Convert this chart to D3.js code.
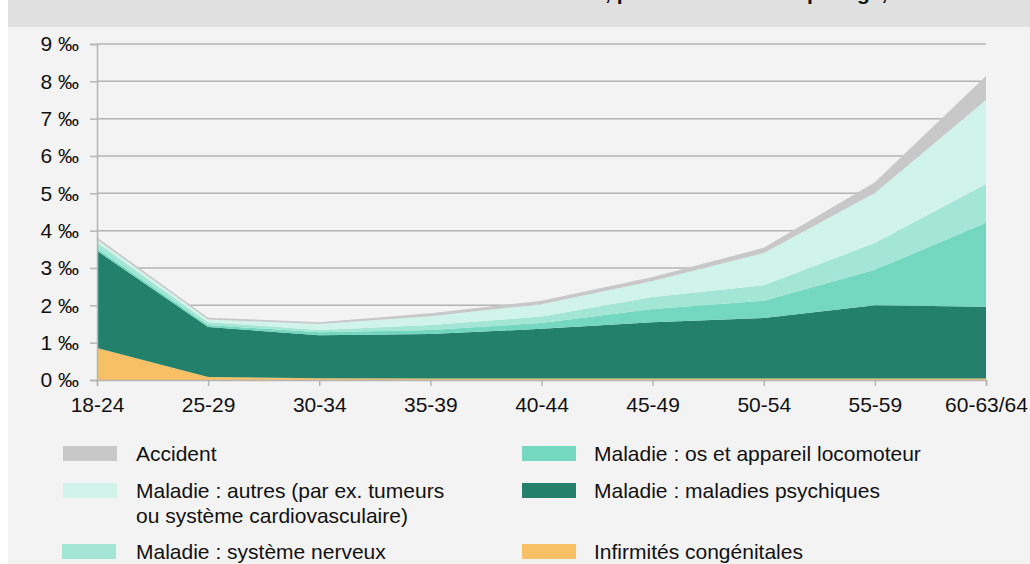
<!DOCTYPE html>
<html>
<head>
<meta charset="utf-8">
<script src="https://cdn.jsdelivr.net/npm/d3@7/dist/d3.min.js"></script>
<style>
  body { margin: 0; background: #ffffff; }
  svg { display: block; font-family: "Liberation Sans", Arial, sans-serif; }
</style>
</head>
<body>
<div id="chart"></div>
<script>
// age groups
const ageGroups = ['18-24', '25-29', '30-34', '35-39', '40-44', '45-49', '50-54', '55-59', '60-63/64'];

// per mille (not cumulative)
const infirmites = [0.86, 0.08, 0.05, 0.04, 0.04, 0.04, 0.04, 0.04, 0.04];
const psychiques = [2.60, 1.34, 1.15, 1.19, 1.33, 1.51, 1.62, 1.96, 1.92];
const osLocomoteur = [0.06, 0.05, 0.08, 0.11, 0.16, 0.35, 0.46, 0.95, 2.25];
const nerveux = [0.16, 0.08, 0.06, 0.13, 0.17, 0.32, 0.42, 0.72, 1.04];
const autres = [0.08, 0.07, 0.16, 0.24, 0.33, 0.43, 0.86, 1.34, 2.25];
const accident = [0.06, 0.05, 0.05, 0.08, 0.09, 0.11, 0.14, 0.29, 0.64];

const yTicks = [0, 1, 2, 3, 4, 5, 6, 7, 8, 9];

const keys = ['inf', 'psy', 'os', 'ner', 'aut', 'acc'];
const seriesValues = { inf: infirmites, psy: psychiques, os: osLocomoteur, ner: nerveux, aut: autres, acc: accident };
const colors = { inf: '#f8c064', psy: '#22806b', os: '#74d8c1', ner: '#a3e6d5', aut: '#d0f3ea', acc: '#c8c8c8' };

const legendItems = [
    { key: 'acc', lines: ['Accident'], x: 63, y: 446 },
    { key: 'aut', lines: ['Maladie : autres (par ex. tumeurs', 'ou système cardiovasculaire)'], x: 63, y: 483 },
    { key: 'ner', lines: ['Maladie : système nerveux'], x: 62, y: 544 },
    { key: 'os', lines: ['Maladie : os et appareil locomoteur'], x: 522, y: 446 },
    { key: 'psy', lines: ['Maladie : maladies psychiques'], x: 522, y: 483 },
    { key: 'inf', lines: ['Infirmités congénitales'], x: 522, y: 544 }
];

const width = 1030;
const height = 564;
const plotLeft = 97, plotRight = 986, plotTop = 44, plotBottom = 380;
const fontSize = 21;

const svg = d3.select('#chart').append('svg')
    .attr('width', width)
    .attr('height', height);

// background panels
svg.append('rect').attr('x', 8).attr('y', 0).attr('width', width - 8).attr('height', height).attr('fill', '#f3f3f3');
svg.append('rect').attr('x', 8).attr('y', 0).attr('width', width - 8).attr('height', 27).attr('fill', '#e0e0e0');

// title, cut off at the top of the picture like in the source
svg.append('text')
    .attr('x', 940).attr('y', 0)
    .attr('text-anchor', 'end')
    .attr('font-size', 21).attr('font-weight', 'bold').attr('fill', '#111')
    .text('Nouvelles rentes selon la cause d\u2019invalidité, pour 1000 assurés par âge, 2023');

const table = ageGroups.map((g, i) => {
    const row = { group: g };
    keys.forEach(k => row[k] = seriesValues[k][i]);
    return row;
});

const stacked = d3.stack().keys(keys)(table);

const x = d3.scalePoint()
    .domain(ageGroups)
    .range([plotLeft, plotRight]);

const y = d3.scaleLinear()
    .domain([0, 9])
    .range([plotBottom, plotTop]);

// gridlines
svg.append('g')
    .selectAll('line')
    .data(yTicks.filter(d => d > 0))
    .join('line')
    .attr('x1', plotLeft).attr('x2', plotRight)
    .attr('y1', d => y(d)).attr('y2', d => y(d))
    .attr('stroke', '#b4b4b4').attr('stroke-width', 1.5);

// areas
const area = d3.area()
    .x(d => x(d.data.group))
    .y0(d => y(d[0]))
    .y1(d => y(d[1]));

svg.append('g')
    .selectAll('path')
    .data(stacked)
    .join('path')
    .attr('d', area)
    .attr('fill', d => colors[d.key]);

// y axis
const yAxis = svg.append('g')
    .attr('transform', `translate(${plotLeft},0)`)
    .call(d3.axisLeft(y).tickValues(yTicks).tickSize(7).tickPadding(11).tickFormat(d => d + ' \u2030'));
yAxis.select('.domain').attr('stroke', '#b4b4b4').attr('stroke-width', 1.5);
yAxis.selectAll('.tick line').attr('stroke', '#b4b4b4').attr('stroke-width', 1.5);
yAxis.selectAll('.tick text').attr('font-size', fontSize).attr('fill', '#111').attr('font-family', '"Liberation Sans", Arial, sans-serif');

// x axis
const xAxis = svg.append('g')
    .attr('transform', `translate(0,${plotBottom})`)
    .call(d3.axisBottom(x).tickSize(6).tickPadding(11));
xAxis.select('.domain').attr('stroke', '#b4b4b4').attr('stroke-width', 1.5);
xAxis.selectAll('.tick line').attr('stroke', '#b4b4b4').attr('stroke-width', 1.5);
xAxis.selectAll('.tick text').attr('font-size', fontSize).attr('fill', '#111').attr('font-family', '"Liberation Sans", Arial, sans-serif');

// legend
const legend = svg.append('g')
    .selectAll('g')
    .data(legendItems)
    .join('g')
    .attr('transform', d => `translate(${d.x},${d.y})`);

legend.append('rect')
    .attr('width', 54).attr('height', 15)
    .attr('fill', d => colors[d.key]);

legend.append('text')
    .attr('font-size', fontSize).attr('fill', '#111')
    .selectAll('tspan')
    .data(d => d.lines.map((l, i) => ({ l, i, x: d.x })))
    .join('tspan')
    .attr('x', d => (d.x < 300 ? 136 : 594) - d.x)
    .attr('y', d => 14.5 + d.i * 25)
    .text(d => d.l);
</script>
</body>
</html>
